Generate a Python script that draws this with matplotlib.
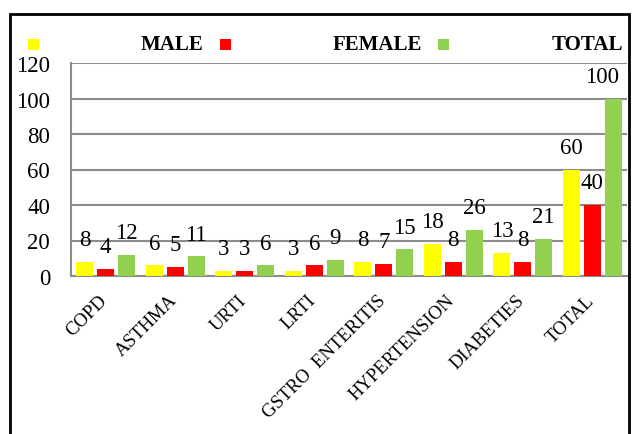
import matplotlib
matplotlib.use("Agg")
import matplotlib.pyplot as plt
from matplotlib.patches import Rectangle
import matplotlib.transforms as mtransforms
import numpy as np

categories = ["COPD", "ASTHMA", "URTI", "LRTI", "GSTRO  ENTERITIS",
              "HYPERTENSION", "DIABETIES", "TOTAL"]
male = [8, 6, 3, 3, 8, 18, 13, 60]
female = [4, 5, 3, 6, 7, 8, 8, 40]
total = [12, 11, 6, 9, 15, 26, 21, 100]
series_names = ["MALE", "FEMALE", "TOTAL"]
colors = ["#FFFF00", "#FF0000", "#92D050"]
yticks = [0, 20, 40, 60, 80, 100, 120]

plt.rcParams['font.family'] = ['Liberation Serif', 'DejaVu Serif']

W, H = 633, 435
fig = plt.figure(figsize=(W / 100, H / 100), dpi=100)

L, R, T, B = 71, 627, 64, 277
ax = fig.add_axes([L / W, 1 - B / H, (R - L) / W, (B - T) / H])

x = np.arange(len(categories))
bw = 0.245
off = 0.30
for i, (vals, c) in enumerate(zip([male, female, total], colors)):
    xs = x + (i - 1) * off
    ax.bar(xs, vals, width=bw, color=c, zorder=3)
    for xi, v in zip(xs, vals):
        dx = 0
        if xi == xs[-1] and i == 2:
            dx = -8
        ax.annotate(str(v), (xi, v), xytext=(dx, 12), textcoords="offset points",
                    ha="center", va="baseline", fontsize=16.5, zorder=4,
                    annotation_clip=False)

ax.set_xlim(-0.5, len(categories) - 0.5)
ax.set_ylim(0, 120)
ax.set_yticks(yticks)
ax.set_yticklabels([str(t) for t in yticks], fontsize=16.5)
ax.tick_params(axis="y", length=0, pad=15)
ax.yaxis.grid(True, color="#8c8c8c", linewidth=1.5, zorder=0)
ax.set_axisbelow(True)
for s in ["top", "right"]:
    ax.spines[s].set_visible(False)
for s in ["left", "bottom"]:
    ax.spines[s].set_color("#8c8c8c")
    ax.spines[s].set_linewidth(1.5)

ax.set_xticks(x)
ax.set_xticklabels(categories, rotation=45, ha="right", va="top", fontsize=13.5)
ax.tick_params(axis="x", length=0, pad=11)
shift = mtransforms.ScaledTranslation(5 / 100, 0, fig.dpi_scale_trans)
for lab in ax.get_xticklabels():
    lab.set_transform(lab.get_transform() + shift)

# outer frame
fig.patches.append(Rectangle((10 / W, -0.05), (629 - 10) / W, 1.05 - 15 / H,
                             transform=fig.transFigure, fill=False,
                             edgecolor="black", linewidth=2, zorder=10))

# legend (Word style: marker, then label far right)
sq = 11
marker_x = [28, 220, 438]
text_right = [203, 422, 623]
ly = 45
for mx, tr, c, name in zip(marker_x, text_right, colors, series_names):
    fig.patches.append(Rectangle((mx / W, 1 - (ly + sq / 2) / H), sq / W, sq / H,
                                 transform=fig.transFigure, facecolor=c,
                                 edgecolor="none", zorder=10))
    fig.text(tr / W, 1 - ly / H, name, ha="right", va="center",
             fontsize=15, fontweight="bold")

fig.savefig("out.png", dpi=100)
